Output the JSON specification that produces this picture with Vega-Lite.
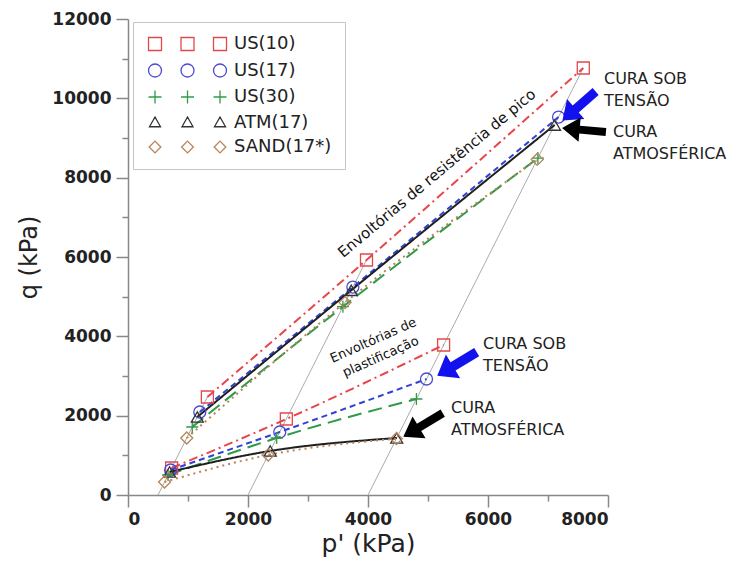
{
  "$schema": "https://vega.github.io/schema/vega-lite/v6.json",
  "width": 480,
  "height": 476,
  "autosize": "none",
  "padding": {"left": 128, "top": 19, "right": 121, "bottom": 85},
  "background": "white",
  "config": {"view": {"stroke": null}},
  "datasets": {
    "pts": [
      {"s": "US(10)", "env": "pico", "p": 1323, "q": 2470},
      {"s": "US(10)", "env": "pico", "p": 3975, "q": 5925},
      {"s": "US(10)", "env": "pico", "p": 7588, "q": 10765},
      {"s": "US(17)", "env": "pico", "p": 1197, "q": 2092},
      {"s": "US(17)", "env": "pico", "p": 3748, "q": 5243},
      {"s": "US(17)", "env": "pico", "p": 7176, "q": 9528},
      {"s": "US(30)", "env": "pico", "p": 1071, "q": 1714},
      {"s": "US(30)", "env": "pico", "p": 3582, "q": 4747},
      {"s": "US(30)", "env": "pico", "p": 6832, "q": 8495},
      {"s": "ATM(17)", "env": "pico", "p": 1155, "q": 1966},
      {"s": "ATM(17)", "env": "pico", "p": 3720, "q": 5160},
      {"s": "ATM(17)", "env": "pico", "p": 7109, "q": 9327},
      {"s": "SAND(17*)", "env": "pico", "p": 979, "q": 1437},
      {"s": "SAND(17*)", "env": "pico", "p": 3617, "q": 4850},
      {"s": "SAND(17*)", "env": "pico", "p": 6820, "q": 8460},
      {"s": "US(10)", "env": "plast", "p": 727, "q": 681},
      {"s": "US(10)", "env": "plast", "p": 2639, "q": 1916},
      {"s": "US(10)", "env": "plast", "p": 5260, "q": 3781},
      {"s": "US(17)", "env": "plast", "p": 710, "q": 630},
      {"s": "US(17)", "env": "plast", "p": 2529, "q": 1588},
      {"s": "US(17)", "env": "plast", "p": 4975, "q": 2924},
      {"s": "US(30)", "env": "plast", "p": 668, "q": 504},
      {"s": "US(30)", "env": "plast", "p": 2479, "q": 1437},
      {"s": "US(30)", "env": "plast", "p": 4807, "q": 2420},
      {"s": "ATM(17)", "env": "plast", "p": 693, "q": 580},
      {"s": "ATM(17)", "env": "plast", "p": 2370, "q": 1110},
      {"s": "ATM(17)", "env": "plast", "p": 4479, "q": 1437},
      {"s": "SAND(17*)", "env": "plast", "p": 609, "q": 328},
      {"s": "SAND(17*)", "env": "plast", "p": 2336, "q": 1008},
      {"s": "SAND(17*)", "env": "plast", "p": 4473, "q": 1420}
    ],
    "paths": [
      {"path": "500", "p": 500, "q": 0},
      {"path": "500", "p": 1323, "q": 2470},
      {"path": "2000", "p": 2000, "q": 0},
      {"path": "2000", "p": 3975, "q": 5925},
      {"path": "4000", "p": 4000, "q": 0},
      {"path": "4000", "p": 7588, "q": 10765}
    ]
  },
  "resolve": {"axis": {"x": "independent", "y": "independent"}},
  "layer": [
    {
      "data": {"name": "paths"},
      "mark": {"type": "line", "color": "#ababab", "strokeWidth": 1},
      "encoding": {
        "x": {"field": "p", "type": "quantitative", "scale": {"domain": [0, 8000], "nice": false},
          "axis": {"orient": "bottom", "values": [0, 2000, 4000, 6000, 8000], "format": "d", "grid": false,
            "tickSize": 12, "tickWidth": 1.5, "tickColor": "#888", "domainColor": "#888", "domainWidth": 1.5,
            "labelFont": "DejaVu Sans", "labelFontWeight": "bold", "labelFontSize": 17, "labelColor": "#222", "labelPadding": 4,
            "title": "p' (kPa)", "titleFont": "DejaVu Sans", "titleFontWeight": "normal", "titleFontSize": 25, "titleColor": "#222", "titlePadding": 4}},
        "y": {"field": "q", "type": "quantitative", "scale": {"domain": [0, 12000], "nice": false},
          "axis": {"orient": "left", "values": [0, 2000, 4000, 6000, 8000, 10000, 12000], "format": "d", "grid": false,
            "tickSize": 12, "tickWidth": 1.5, "tickColor": "#888", "domainColor": "#888", "domainWidth": 1.5,
            "labelFont": "DejaVu Sans", "labelFontWeight": "bold", "labelFontSize": 17, "labelColor": "#222", "labelPadding": 5,
            "title": "q (kPa)", "titleFont": "DejaVu Sans", "titleFontWeight": "normal", "titleFontSize": 24, "titleColor": "#222", "titlePadding": 10}},
        "detail": {"field": "path"}
      }
    },
    {
      "data": {"name": "pts"},
      "mark": {"type": "line", "strokeWidth": 2, "interpolate": "monotone"},
      "encoding": {
        "x": {"field": "p", "type": "quantitative",
          "axis": {"orient": "bottom", "values": [1000, 3000, 5000, 7000], "labels": false, "domain": false, "grid": false, "title": null,
            "tickSize": 6, "tickWidth": 1.5, "tickColor": "#888"}},
        "y": {"field": "q", "type": "quantitative",
          "axis": {"orient": "left", "values": [1000, 3000, 5000, 7000, 9000, 11000], "labels": false, "domain": false, "grid": false, "title": null,
            "tickSize": 6, "tickWidth": 1.5, "tickColor": "#888"}},
        "stroke": {"field": "s", "type": "nominal", "legend": null,
          "scale": {"domain": ["ATM(17)", "SAND(17*)", "US(10)", "US(17)", "US(30)"], "range": ["#1e1e1e", "#b8845a", "#e8454a", "#3040d8", "#2f9a47"]}},
        "strokeDash": {"field": "s", "type": "nominal", "legend": null,
          "scale": {"domain": ["SAND(17*)", "ATM(17)", "US(10)", "US(17)", "US(30)"], "range": [[2, 4], [1, 0], [9, 4, 2, 4], [6, 4], [14, 7]]}},
        "detail": {"field": "env"}
      }
    },
    {
      "data": {"name": "pts"},
      "mark": {"type": "point", "filled": false, "size": 144, "strokeWidth": 1.3, "opacity": 1},
      "encoding": {
        "x": {"field": "p", "type": "quantitative", "axis": null},
        "y": {"field": "q", "type": "quantitative", "axis": null},
        "color": {"field": "s", "type": "nominal",
          "scale": {"domain": ["US(10)", "US(17)", "US(30)", "ATM(17)", "SAND(17*)"], "range": ["#e2484e", "#4a4ad2", "#2f9a47", "#333333", "#b8845a"]},
          "legend": {"orient": "none", "legendX": 5, "legendY": 3, "title": null, "direction": "vertical",
            "strokeColor": "#c4c4c4", "fillColor": "white", "padding": 13, "rowPadding": 6.5,
            "labelFont": "DejaVu Sans", "labelFontSize": 18, "labelColor": "#222", "labelOffset": 70,
            "symbolSize": 169, "symbolStrokeWidth": 1.3,
            "encoding": {"symbols": {
              "shape": {"value": {"expr": "datum.value === 'US(10)' ? 'M-1,-1H1V1H-1Z M4,-1H6V1H4Z M9,-1H11V1H9Z' : datum.value === 'US(17)' ? 'M-1,0A1,1 0 1,0 1,0A1,1 0 1,0 -1,0Z M4,0A1,1 0 1,0 6,0A1,1 0 1,0 4,0Z M9,0A1,1 0 1,0 11,0A1,1 0 1,0 9,0Z' : datum.value === 'US(30)' ? 'M-1,0H1M0,-1V1 M4,0H6M5,-1V1 M9,0H11M10,-1V1' : datum.value === 'ATM(17)' ? 'M0,-0.85L0.85,0.65H-0.85Z M5,-0.85L5.85,0.65H4.15Z M10,-0.85L10.85,0.65H9.15Z' : 'M0,-0.9L0.9,0L0,0.9L-0.9,0Z M5,-0.9L5.9,0L5,0.9L4.1,0Z M10,-0.9L10.9,0L10,0.9L9.1,0Z'"}},
              "fill": {"value": "transparent"},
              "strokeWidth": {"value": 1.3},
              "size": {"value": 169}
            }}}},
        "shape": {"field": "s", "type": "nominal", "legend": null,
          "scale": {"domain": ["ATM(17)", "SAND(17*)", "US(10)", "US(17)", "US(30)"], "range": ["triangle-up", "diamond", "square", "circle", "M-1,0H1M0,-1V1"]}}
      }
    },
    {
      "data": {"values": [{"p": 7517, "q": 9806}]},
      "mark": {"type": "point", "filled": true, "color": "#1212ee", "opacity": 1, "strokeWidth": 0, "size": 1936, "angle": 139,
        "shape": "M-1,-0.21L0.2,-0.21L0.2,-0.6L1,0L0.2,0.6L0.2,0.21L-1,0.21Z"},
      "encoding": {"x": {"field": "p", "type": "quantitative", "axis": null}, "y": {"field": "q", "type": "quantitative", "axis": null}}
    },
    {
      "data": {"values": [{"p": 5483, "q": 3302}]},
      "mark": {"type": "point", "filled": true, "color": "#1212ee", "opacity": 1, "strokeWidth": 0, "size": 2116, "angle": 149,
        "shape": "M-1,-0.21L0.2,-0.21L0.2,-0.6L1,0L0.2,0.6L0.2,0.21L-1,0.21Z"},
      "encoding": {"x": {"field": "p", "type": "quantitative", "axis": null}, "y": {"field": "q", "type": "quantitative", "axis": null}}
    },
    {
      "data": {"values": [{"p": 7600, "q": 9201}]},
      "mark": {"type": "point", "filled": true, "color": "#000000", "opacity": 1, "strokeWidth": 0, "size": 1936, "angle": 185,
        "shape": "M-1,-0.18L0.2,-0.18L0.2,-0.55L1,0L0.2,0.55L0.2,0.18L-1,0.18Z"},
      "encoding": {"x": {"field": "p", "type": "quantitative", "axis": null}, "y": {"field": "q", "type": "quantitative", "axis": null}}
    },
    {
      "data": {"values": [{"p": 4917, "q": 1765}]},
      "mark": {"type": "point", "filled": true, "color": "#000000", "opacity": 1, "strokeWidth": 0, "size": 2116, "angle": 149,
        "shape": "M-1,-0.18L0.2,-0.18L0.2,-0.55L1,0L0.2,0.55L0.2,0.18L-1,0.18Z"},
      "encoding": {"x": {"field": "p", "type": "quantitative", "axis": null}, "y": {"field": "q", "type": "quantitative", "axis": null}}
    },
    {
      "data": {"values": [
        {"p": 7933, "q": 10690, "t": "CURA SOB\nTENSÃO"},
        {"p": 8083, "q": 9360, "t": "CURA\nATMOSFÉRICA"},
        {"p": 5917, "q": 4010, "t": "CURA SOB\nTENSÃO"},
        {"p": 5383, "q": 2400, "t": "CURA\nATMOSFÉRICA"}
      ]},
      "mark": {"type": "text", "align": "left", "baseline": "top", "font": "DejaVu Sans", "fontSize": 16, "color": "#222", "lineBreak": "\n", "lineHeight": 22},
      "encoding": {"x": {"field": "p", "type": "quantitative", "axis": null}, "y": {"field": "q", "type": "quantitative", "axis": null}, "text": {"field": "t"}}
    },
    {
      "data": {"values": [{"p": 5200, "q": 8016, "t": "Envoltórias de resistência de pico"}]},
      "mark": {"type": "text", "align": "center", "baseline": "alphabetic", "font": "DejaVu Sans", "fontSize": 15, "color": "#111", "angle": 320},
      "encoding": {"x": {"field": "p", "type": "quantitative", "axis": null}, "y": {"field": "q", "type": "quantitative", "axis": null}, "text": {"field": "t"}}
    },
    {
      "data": {"values": [{"p": 4117, "q": 3806, "t": "Envoltórias de\nplastificação"}]},
      "mark": {"type": "text", "align": "center", "baseline": "alphabetic", "font": "DejaVu Sans", "fontSize": 13, "color": "#111", "angle": 336, "lineBreak": "\n", "lineHeight": 18},
      "encoding": {"x": {"field": "p", "type": "quantitative", "axis": null}, "y": {"field": "q", "type": "quantitative", "axis": null}, "text": {"field": "t"}}
    }
  ]
}
